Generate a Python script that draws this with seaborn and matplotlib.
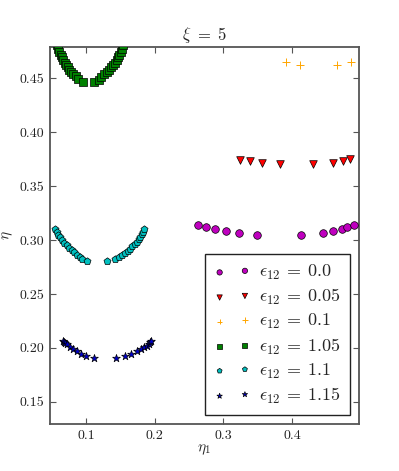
import matplotlib
matplotlib.use("Agg")
import matplotlib.pyplot as plt
import seaborn as sns
import numpy as np

# eps_12 = 0.0 (magenta circles)
x_e00 = [0.2627, 0.2748, 0.2883, 0.3039, 0.3228, 0.3486, 0.4131, 0.4451, 0.4601, 0.4724, 0.4796, 0.4907]
y_e00 = [0.3139, 0.3121, 0.3102, 0.3084, 0.3065, 0.3046, 0.3046, 0.3065, 0.3084, 0.3102, 0.3121, 0.3139]

# eps_12 = 0.05 (red triangles)
x_e005 = [0.3247, 0.3393, 0.3559, 0.3821, 0.4306, 0.4593, 0.4747, 0.4845]
y_e005 = [0.3744, 0.3732, 0.3716, 0.3700, 0.3700, 0.3716, 0.3732, 0.3748]

# eps_12 = 0.1 (orange plus)
x_e01 = [0.3912, 0.4116, 0.4651, 0.4859]
y_e01 = [0.4647, 0.4625, 0.4625, 0.4647]

# eps_12 = 1.05 (green squares)
x_e105 = [0.0580, 0.0597, 0.0611, 0.0631, 0.0650, 0.0670, 0.0689, 0.0709, 0.0733, 0.0757, 0.0786,
          0.0815, 0.0850, 0.0888, 0.0952,
          0.1121, 0.1189, 0.1223, 0.1262, 0.1301, 0.1340, 0.1369, 0.1398, 0.1422, 0.1447, 0.1466,
          0.1485, 0.1505, 0.1524, 0.1542]
y_e105 = [0.4805, 0.4775, 0.4743, 0.4719, 0.4693, 0.4668, 0.4644, 0.4621, 0.4600, 0.4578, 0.4556,
          0.4535, 0.4516, 0.4494, 0.4466,
          0.4466, 0.4485, 0.4513, 0.4537, 0.4556, 0.4578, 0.4600, 0.4621, 0.4644, 0.4668, 0.4693,
          0.4719, 0.4743, 0.4775, 0.4805]

# eps_12 = 1.1 (cyan pentagons)
x_e11 = [0.0549, 0.0573, 0.0597, 0.0621, 0.0655, 0.0684, 0.0719, 0.0757, 0.0791, 0.0830, 0.0874,
         0.0913, 0.0942, 0.1019,
         0.1310, 0.1422, 0.1481, 0.1524, 0.1568, 0.1607, 0.1641, 0.1674, 0.1709, 0.1738, 0.1767,
         0.1791, 0.1816, 0.1835, 0.1849]
y_e11 = [0.3102, 0.3071, 0.3046, 0.3025, 0.2997, 0.2975, 0.2951, 0.2929, 0.2907, 0.2886, 0.2861,
         0.2842, 0.2826, 0.2805,
         0.2805, 0.2824, 0.2842, 0.2861, 0.2882, 0.2901, 0.2920, 0.2941, 0.2963, 0.2984, 0.3006,
         0.3031, 0.3053, 0.3074, 0.3102]

# eps_12 = 1.15 (blue stars)
x_e115 = [0.0670, 0.0685, 0.0699, 0.0728, 0.0767, 0.0815, 0.0874, 0.0932, 0.1000, 0.1117,
          0.1432, 0.1573, 0.1660, 0.1738, 0.1797, 0.1845, 0.1884, 0.1917, 0.1930, 0.1942]
y_e115 = [0.2065, 0.2056, 0.2047, 0.2032, 0.2013, 0.1991, 0.1972, 0.1948, 0.1926, 0.1904,
          0.1904, 0.1926, 0.1948, 0.1969, 0.1988, 0.2007, 0.2022, 0.2041, 0.2053, 0.2065]

labels = [r"$\epsilon_{12}\:=\:0.0$", r"$\epsilon_{12}\:=\:0.05$", r"$\epsilon_{12}\:=\:0.1$",
          r"$\epsilon_{12}\:=\:1.05$", r"$\epsilon_{12}\:=\:1.1$", r"$\epsilon_{12}\:=\:1.15$"]

sns.set_style("ticks")
plt.rcParams["font.family"] = "serif"
plt.rcParams["font.serif"] = ["cmr10", "DejaVu Serif"]
plt.rcParams["mathtext.fontset"] = "cm"
plt.rcParams["axes.formatter.use_mathtext"] = True
plt.rcParams["axes.unicode_minus"] = False

fig = plt.figure(figsize=(3.99, 4.71), dpi=100)
ax = fig.add_axes([0.125, 0.1, 0.775, 0.8])

series = [
    (x_e00, y_e00, "o", "#bf00bf", 30),
    (x_e005, y_e005, "v", "#ff0000", 30),
    (x_e01, y_e01, "+", "#ffa500", 30),
    (x_e105, y_e105, "s", "#008000", 26),
    (x_e11, y_e11, "p", "#00bfbf", 28),
    (x_e115, y_e115, "*", "#0000cc", 34),
]

for (xs, ys, mk, col, sz), lab in zip(series, labels):
    if mk == "+":
        sns.scatterplot(x=xs, y=ys, marker=mk, color=col, s=sz, linewidth=0.7,
                        ax=ax, label=lab, zorder=3)
    else:
        sns.scatterplot(x=xs, y=ys, marker=mk, color=col, s=sz, edgecolor="k",
                        linewidth=0.5, ax=ax, label=lab, zorder=3)

ax.set_xlim(0.0475, 0.4975)
ax.set_ylim(0.1296, 0.4788)
ax.set_xticks([0.1, 0.2, 0.3, 0.4])
ax.set_xticklabels(["0.1", "0.2", "0.3", "0.4"])
ax.set_yticks([0.15, 0.20, 0.25, 0.30, 0.35, 0.40, 0.45])
ax.set_yticklabels(["0.15", "0.20", "0.25", "0.30", "0.35", "0.40", "0.45"])

ax.tick_params(direction="in", length=4, width=0.8, top=True, right=True,
               labelsize=10, color="#555555", labelcolor="#222222", pad=4)
for sp in ax.spines.values():
    sp.set_color("#555555")
    sp.set_linewidth(1.3)

ax.set_xlabel(r"$\eta_1$", fontsize=11, labelpad=1)
ax.set_ylabel(r"$\eta$", fontsize=11, labelpad=3)
ax.set_title(r"$\xi\ =\ 5$", fontsize=12, pad=5)

leg = ax.legend(loc="lower right", scatterpoints=2, markerscale=0.7, fontsize=13,
                frameon=True, fancybox=False, borderaxespad=0.5,
                handletextpad=0.5, handlelength=2.0, labelspacing=0.28, borderpad=0.5)
leg.get_frame().set_edgecolor("#222222")
leg.get_frame().set_linewidth(1.0)
leg.get_frame().set_alpha(1.0)

fig.savefig("out.png", dpi=100)
